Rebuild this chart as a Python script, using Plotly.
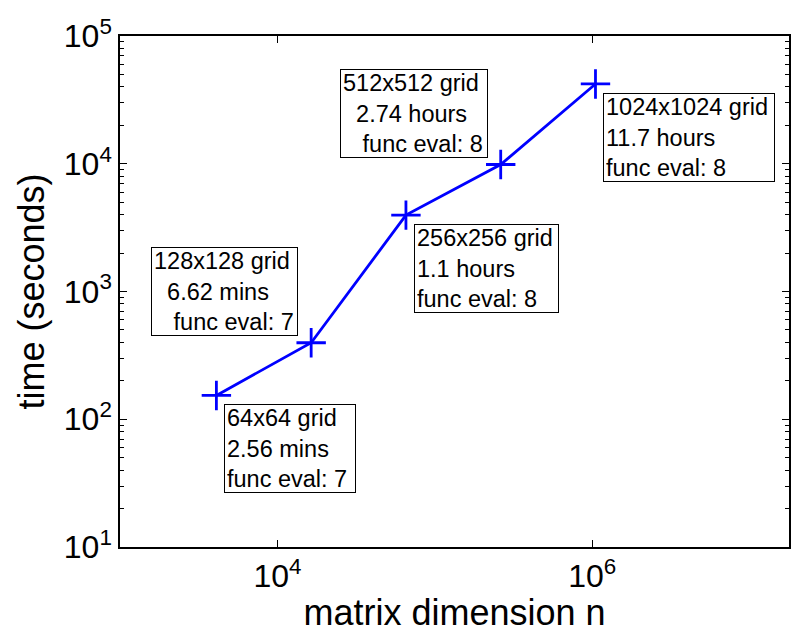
import math
import plotly.graph_objects as go

# Problem sizes (grid side length) and measured run times
grid_side = [64, 128, 256, 512, 1024]
matrix_n = [s * s for s in grid_side]
time_seconds = [153.6, 397.2, 3960.0, 9864.0, 42120.0]
time_text = ["2.56 mins", "6.62 mins", "1.1 hours", "2.74 hours", "11.7 hours"]
func_evals = [7, 7, 8, 8, 8]

# Label placement per point: "br" = below-right of the point, "tl" = above-left
label_side = ["br", "tl", "br", "tl", "br"]
label_width = [126, 141, 139, 142, 166]

x_tickvals = [1e4, 1e6]
x_ticktext = ["10<sup>4</sup>", "10<sup>6</sup>"]
y_tickvals = [1e1, 1e2, 1e3, 1e4, 1e5]
y_ticktext = ["10<sup>1</sup>", "10<sup>2</sup>", "10<sup>3</sup>", "10<sup>4</sup>", "10<sup>5</sup>"]
y_minor = [m * 10 ** e for e in range(1, 5) for m in range(2, 10)]

FONT = "Liberation Sans, Arial, Helvetica, sans-serif"
BLUE = "#0000ff"

fig = go.Figure()
fig.add_trace(go.Scatter(
    x=matrix_n, y=time_seconds, mode="lines+markers",
    line=dict(color=BLUE, width=2.8),
    marker=dict(symbol="cross-thin", size=21, line=dict(color=BLUE, width=2.8)),
    showlegend=False, hoverinfo="skip",
))

NB = "\u00a0"
for s, n, t, tt, fe, side, w in zip(grid_side, matrix_n, time_seconds, time_text,
                                     func_evals, label_side, label_width):
    if side == "tl":
        lines = [f"{s}x{s} grid", NB * 2 + tt, NB * 3 + f"func eval: {fe}"]
        xa, ya, xs, ys = "right", "bottom", -13, 7
    else:
        lines = [f"{s}x{s} grid", tt, f"func eval: {fe}"]
        xa, ya, xs, ys = "left", "top", 8, -9
    # annotation positions on log axes are given in log10 units
    fig.add_annotation(
        x=math.log10(n), y=math.log10(t), xref="x", yref="y", text="<br>".join(lines),
        showarrow=False, xanchor=xa, yanchor=ya, xshift=xs, yshift=ys,
        align="left", valign="middle", width=w, height=83,
        font=dict(family=FONT, size=23.5, color="black"),
        bgcolor="white", bordercolor="black", borderwidth=1, borderpad=2,
    )

axis_common = dict(
    type="log", showgrid=False, zeroline=False,
    showline=True, linecolor="black", linewidth=1.5, mirror="ticks",
    ticks="inside", ticklen=7, tickwidth=1, tickcolor="black",
    tickfont=dict(family=FONT, size=32, color="black"),
)

fig.update_xaxes(
    **axis_common, range=[3.0, 7.25],
    tickmode="array", tickvals=x_tickvals, ticktext=x_ticktext,
    title=dict(text="matrix dimension n", font=dict(family=FONT, size=36, color="black"), standoff=4),
)
fig.update_yaxes(
    **axis_common, range=[1, 5],
    tickmode="array", tickvals=y_tickvals, ticktext=y_ticktext,
    minor=dict(tickmode="array", tickvals=y_minor, ticks="inside", ticklen=4,
               tickwidth=1, tickcolor="black", showgrid=False),
    title=dict(text="time (seconds)", font=dict(family=FONT, size=36, color="black"), standoff=8),
)

fig.update_layout(
    width=794, height=633,
    margin=dict(l=120, r=3, t=36, b=86),
    paper_bgcolor="white", plot_bgcolor="white",
)

fig.write_html("out.html")
